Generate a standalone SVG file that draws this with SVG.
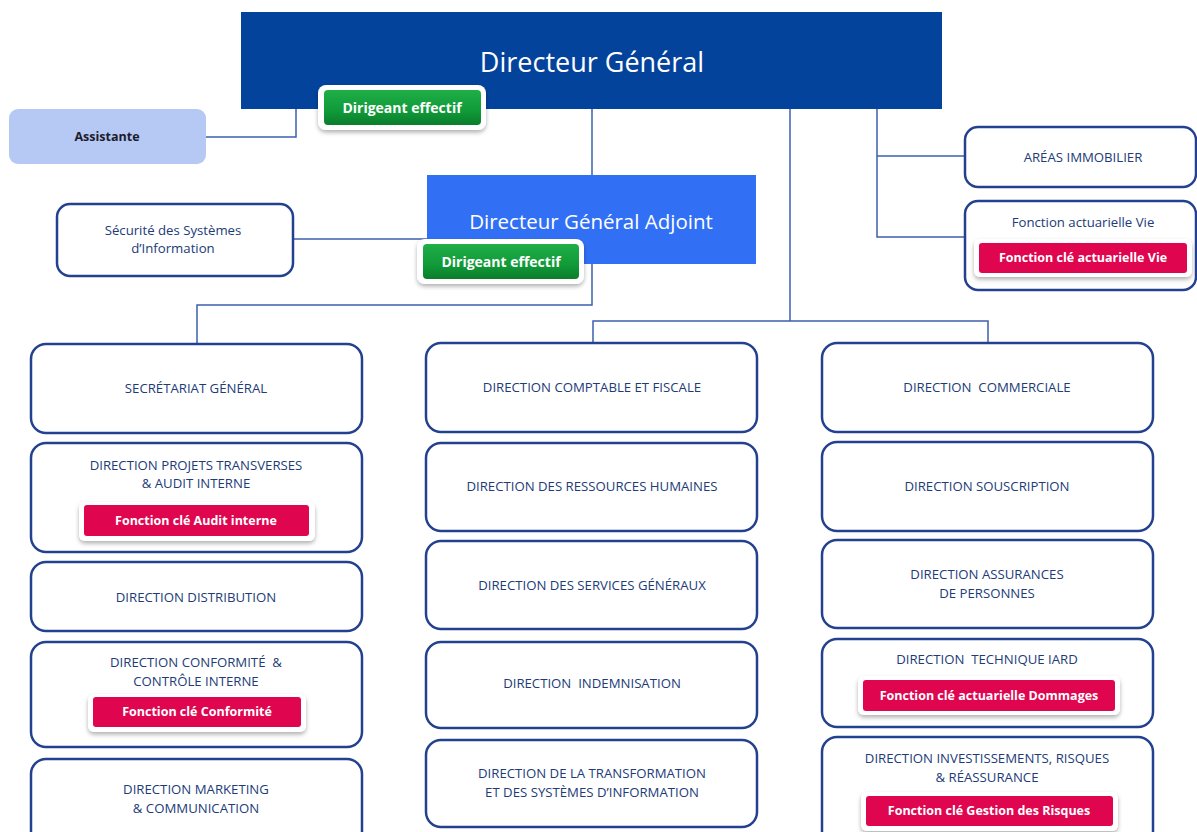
<svg xmlns="http://www.w3.org/2000/svg" width="1197" height="832" viewBox="0 0 1197 832">
<defs>
<filter id="sh" x="-10%" y="-30%" width="120%" height="170%">
<feDropShadow dx="0" dy="2.5" stdDeviation="2" flood-color="#000" flood-opacity="0.3"/>
</filter>
<linearGradient id="gg" x1="0" y1="0" x2="0" y2="1">
<stop offset="0" stop-color="#1fae48"/>
<stop offset="0.6" stop-color="#109a38"/>
<stop offset="1" stop-color="#0b7d2c"/>
</linearGradient>
</defs>
<style>
.box{fill:#fff;stroke:#23418e;stroke-width:2.5}
.t{font-family:"Open Sans","Liberation Sans",sans-serif;font-size:13.2px;fill:#213b78;text-anchor:middle;white-space:pre}
.frame{fill:#fff;filter:url(#sh)}
.red{fill:#e0054f}
.green{fill:url(#gg)}
.bt{font-family:"Open Sans","Liberation Sans",sans-serif;font-size:12.5px;font-weight:bold;fill:#fff;text-anchor:middle}
.gt{font-size:14px}
.conn{fill:none;stroke:#3d5fae;stroke-width:1.5}
</style>
<rect width="1197" height="832" fill="#fff"/>
<g id="connectors">
<path class="conn" d="M296,109 V137 H206"/>
<path class="conn" d="M592,109 V175"/>
<path class="conn" d="M427,239 H293"/>
<path class="conn" d="M592,264 V305 H197 V344"/>
<path class="conn" d="M790,109 V321"/>
<path class="conn" d="M593,343 V321 H988 V343"/>
<path class="conn" d="M877,109 V237 H965"/>
<path class="conn" d="M877,156 H965"/>
</g>
<g id="dg">
<rect x="241" y="12" width="701" height="97" fill="#03439c"/>
<text x="592" y="72" font-family="Open Sans,Liberation Sans,sans-serif" font-size="27" fill="#fff" text-anchor="middle">Directeur Général</text>
<rect class="frame" x="318" y="85" width="168" height="45" rx="8"/>
<rect class="green" x="324" y="90" width="157" height="35" rx="4"/>
<text class="bt gt" x="402" y="113">Dirigeant effectif</text>
</g>
<g id="assistante">
<rect x="9" y="109" width="197" height="55" rx="9" fill="#b6c8f4"/>
<text x="107" y="141" font-family="Open Sans,Liberation Sans,sans-serif" font-size="12.5" font-weight="bold" fill="#1c1c2c" text-anchor="middle">Assistante</text>
</g>
<g id="dga">
<rect x="427" y="175" width="329" height="89" fill="#3170f5"/>
<text x="591" y="229" font-family="Open Sans,Liberation Sans,sans-serif" font-size="20.5" fill="#fff" text-anchor="middle">Directeur Général Adjoint</text>
<rect class="frame" x="417" y="239" width="167" height="45" rx="8"/>
<rect class="green" x="423" y="244" width="156" height="35" rx="4"/>
<text class="bt gt" x="501" y="267">Dirigeant effectif</text>
</g>
<g id="securite">
<rect class="box" x="57" y="204" width="236" height="72" rx="13"/>
<text class="t" x="173" y="235">Sécurité des Systèmes</text>
<text class="t" x="173" y="253">d’Information</text>
</g>
<g id="areas">
<rect class="box" x="965" y="127" width="231" height="60" rx="13"/>
<text class="t" x="1083" y="162">ARÉAS IMMOBILIER</text>
</g>
<g id="actuarielle-vie">
<rect class="box" x="965" y="201" width="231" height="89" rx="13"/>
<text class="t" x="1083" y="227">Fonction actuarielle Vie</text>
<rect class="frame" x="974" y="239" width="218" height="38" rx="6"/>
<rect class="red" x="979" y="243" width="208" height="30" rx="3"/>
<text class="bt" x="1083" y="262">Fonction clé actuarielle Vie</text>
</g>
<g id="secretariat">
<rect class="box" x="31" y="344" width="331" height="89" rx="15"/>
<text class="t" x="196" y="393">SECRÉTARIAT GÉNÉRAL</text>
</g>
<g id="projets">
<rect class="box" x="31" y="443" width="331" height="109" rx="15"/>
<text class="t" x="196" y="470">DIRECTION PROJETS TRANSVERSES</text>
<text class="t" x="196" y="488">&amp; AUDIT INTERNE</text>
<rect class="frame" x="79" y="502" width="236" height="39" rx="6"/>
<rect class="red" x="84" y="505" width="225" height="31" rx="3"/>
<text class="bt" x="196" y="525">Fonction clé Audit interne</text>
</g>
<g id="distribution">
<rect class="box" x="31" y="562" width="331" height="69" rx="15"/>
<text class="t" x="196" y="602">DIRECTION DISTRIBUTION</text>
</g>
<g id="conformite">
<rect class="box" x="31" y="642" width="331" height="105" rx="15"/>
<text class="t" x="196" y="667">DIRECTION CONFORMITÉ  &amp;</text>
<text class="t" x="196" y="686">CONTRÔLE INTERNE</text>
<rect class="frame" x="88" y="694" width="218" height="38" rx="6"/>
<rect class="red" x="93" y="697" width="208" height="30" rx="3"/>
<text class="bt" x="197" y="716">Fonction clé Conformité</text>
</g>
<g id="marketing">
<rect class="box" x="31" y="759" width="331" height="90" rx="15"/>
<text class="t" x="196" y="794">DIRECTION MARKETING</text>
<text class="t" x="196" y="813">&amp; COMMUNICATION</text>
</g>
<g id="comptable">
<rect class="box" x="426" y="343" width="331" height="89" rx="15"/>
<text class="t" x="592" y="392">DIRECTION COMPTABLE ET FISCALE</text>
</g>
<g id="rh">
<rect class="box" x="426" y="443" width="331" height="88" rx="15"/>
<text class="t" x="592" y="491">DIRECTION DES RESSOURCES HUMAINES</text>
</g>
<g id="services">
<rect class="box" x="426" y="541" width="331" height="88" rx="15"/>
<text class="t" x="592" y="590">DIRECTION DES SERVICES GÉNÉRAUX</text>
</g>
<g id="indemnisation">
<rect class="box" x="426" y="642" width="331" height="86" rx="15"/>
<text class="t" x="592" y="688">DIRECTION  INDEMNISATION</text>
</g>
<g id="transformation">
<rect class="box" x="426" y="740" width="331" height="87" rx="15"/>
<text class="t" x="592" y="778">DIRECTION DE LA TRANSFORMATION</text>
<text class="t" x="592" y="797">ET DES SYSTÈMES D’INFORMATION</text>
</g>
<g id="commerciale">
<rect class="box" x="822" y="343" width="331" height="89" rx="15"/>
<text class="t" x="987" y="392">DIRECTION  COMMERCIALE</text>
</g>
<g id="souscription">
<rect class="box" x="822" y="442" width="331" height="89" rx="15"/>
<text class="t" x="987" y="491">DIRECTION SOUSCRIPTION</text>
</g>
<g id="personnes">
<rect class="box" x="822" y="540" width="331" height="88" rx="15"/>
<text class="t" x="987" y="579">DIRECTION ASSURANCES</text>
<text class="t" x="987" y="598">DE PERSONNES</text>
</g>
<g id="iard">
<rect class="box" x="822" y="639" width="331" height="88" rx="15"/>
<text class="t" x="987" y="664">DIRECTION  TECHNIQUE IARD</text>
<rect class="frame" x="858" y="676" width="262" height="39" rx="6"/>
<rect class="red" x="863" y="680" width="252" height="31" rx="3"/>
<text class="bt" x="989" y="700">Fonction clé actuarielle Dommages</text>
</g>
<g id="investissements">
<rect class="box" x="822" y="737" width="331" height="110" rx="15"/>
<text class="t" x="987" y="763">DIRECTION INVESTISSEMENTS, RISQUES</text>
<text class="t" x="987" y="782">&amp; RÉASSURANCE</text>
<rect class="frame" x="861" y="792" width="257" height="39" rx="6"/>
<rect class="red" x="866" y="796" width="247" height="30" rx="3"/>
<text class="bt" x="989" y="815">Fonction clé Gestion des Risques</text>
</g>
</svg>
